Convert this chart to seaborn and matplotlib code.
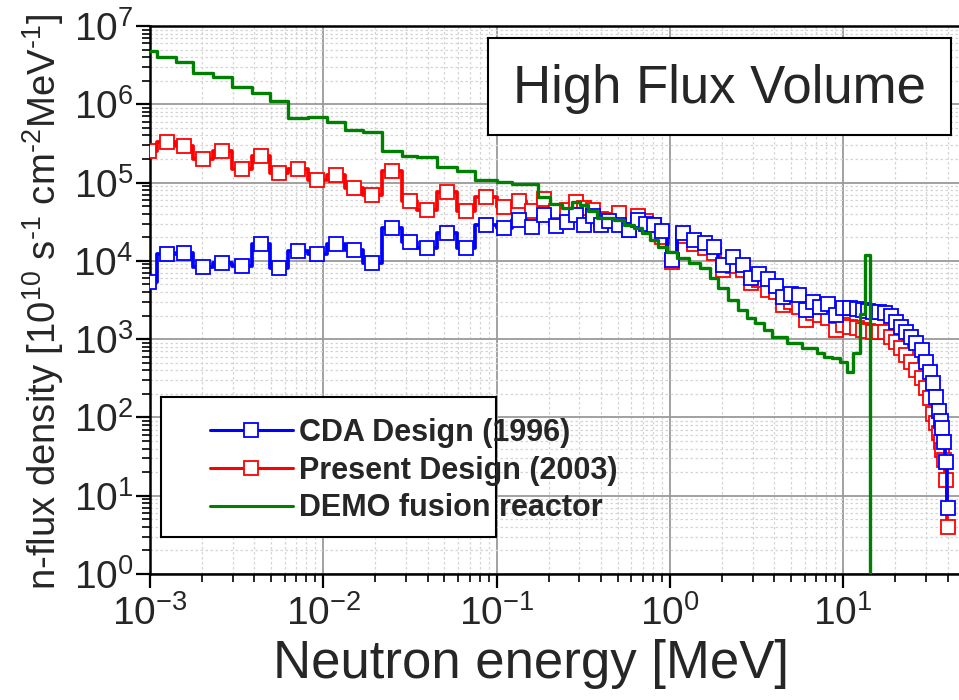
import numpy as np
import pandas as pd
import matplotlib
matplotlib.use("Agg")
import matplotlib.pyplot as plt
from matplotlib.lines import Line2D
from matplotlib.ticker import LogLocator, NullFormatter
import seaborn as sns

# Energy group boundaries [MeV]
energy_edges = [
    8.76e-4, 1.10e-3, 1.41e-3, 1.77e-3, 2.31e-3, 2.97e-3, 3.88e-3, 4.93e-3, 6.26e-3, 8.16e-3,
    1.05e-2, 1.33e-2, 1.69e-2, 2.18e-2, 2.85e-2, 3.47e-2, 4.53e-2, 5.91e-2, 7.51e-2,
    0.100, 0.123, 0.148, 0.173, 0.203, 0.238, 0.272, 0.303, 0.337, 0.380, 0.422, 0.476,
    0.543, 0.621, 0.690, 0.768, 0.854, 0.962,
    1.10, 1.29, 1.49, 1.70, 1.90, 2.16, 2.47, 2.79, 3.10, 3.49, 3.88, 4.32, 4.74, 5.27,
    5.79, 6.35, 7.06, 7.75, 8.62, 9.58,
    10.5, 11.4, 12.5, 13.4, 14.3, 15.5, 16.7, 18.1, 19.6, 21.0, 22.4, 24.0, 25.6, 27.4,
    29.3, 30.9, 32.5, 33.9, 35.0, 36.0, 36.9, 37.9, 38.9, 39.7, 40.5,
]

# Group-wise neutron flux density [1e10 s^-1 cm^-2 MeV^-1]
cda_flux = [
    5.4e3, 1.22e4, 1.25e4, 8.3e3, 9.5e3, 8.6e3, 1.65e4, 8.2e3, 1.35e4, 1.21e4,
    1.65e4, 1.38e4, 9.5e3, 2.6e4, 1.73e4, 1.45e4, 2.3e4, 1.48e4, 2.87e4, 2.6e4,
    3.3e4, 2.7e4, 3.9e4, 2.8e4, 3.1e4, 3.9e4, 2.9e4, 3.7e4, 2.9e4, 3.2e4,
    2.9e4, 2.5e4, 3.3e4, 3.0e4, 2.9e4, 2.4e4, 1.02e4, 2.25e4, 1.85e4, 1.68e4,
    1.52e4, 8.9e3, 1.11e4, 8.9e3, 6.1e3, 6.7e3, 5.8e3, 4.8e3, 3.5e3, 3.8e3,
    3.7e3, 2.36e3, 3.0e3, 2.6e3, 2.8e3, 2.04e3, 2.48e3, 2.48e3, 2.4e3, 2.37e3,
    2.3e3, 2.24e3, 2.2e3, 2.14e3, 1.95e3, 1.67e3, 1.45e3, 1.25e3, 1.08e3, 890,
    730, 510, 385, 273, 184, 122, 91, 73, 48, 27, 6.9,
]

present_flux = [
    2.5e5, 3.3e5, 2.9e5, 2.0e5, 2.5e5, 1.5e5, 2.2e5, 1.34e5, 1.5e5, 1.08e5,
    1.26e5, 8.6e4, 6.95e4, 1.4e5, 5.9e4, 4.5e4, 7.6e4, 4.3e4, 6.6e4, 4.9e4,
    5.9e4, 4.3e4, 6.1e4, 4.3e4, 4.5e4, 5.7e4, 4.7e4, 4.5e4, 3.4e4, 3.3e4,
    4.1e4, 2.5e4, 3.7e4, 3.2e4, 2.9e4, 2.0e4, 9.8e3, 2.05e4, 1.65e4, 1.45e4,
    1.27e4, 7.7e3, 8.6e3, 7.7e3, 5.2e3, 5.7e3, 4.2e3, 4.0e3, 2.7e3, 3.0e3,
    2.6e3, 1.76e3, 2.14e3, 2.04e3, 1.85e3, 1.31e3, 1.51e3, 1.45e3, 1.38e3, 1.31e3,
    1.26e3, 1.25e3, 1.25e3, 1.25e3, 1.08e3, 930, 765, 630, 510, 405,
    316, 235, 176, 112, 84, 63, 49, 38, 29, 16, 4.0,
]

demo_flux = [
    4.8e6, 4.0e6, 3.5e6, 2.5e6, 2.2e6, 1.68e6, 1.41e6, 1.1e6, 6.6e5, 6.8e5,
    5.9e5, 4.7e5, 4.4e5, 2.5e5, 2.2e5, 2.1e5, 1.6e5, 1.42e5, 1.08e5, 1.02e5,
    9.5e4, 9.5e4, 6.6e4, 5.4e4, 4.7e4, 5.7e4, 5.1e4, 4.3e4, 3.5e4, 3.5e4,
    3.3e4, 2.9e4, 2.6e4, 2.25e4, 1.85e4, 1.52e4, 1.31e4, 1.08e4, 9.3e3, 8.0e3,
    6.0e3, 4.5e3, 3.2e3, 2.36e3, 1.85e3, 1.6e3, 1.31e3, 1.08e3, 1.08e3, 890,
    890, 765, 765, 660, 600, 570, 510, 385, 660, 2.1e3,
    1.19e4, 0, 0, 0, 0, 0, 0, 0, 0, 0,
    0, 0, 0, 0, 0, 0, 0, 0, 0, 0, 0,
]

series_labels = ["CDA Design (1996)", "Present Design (2003)", "DEMO fusion reactor"]
series_colors = ["#0000ff", "#ff0000", "#008000"]
x_ticks = [1e-3, 1e-2, 1e-1, 1e0, 1e1]
y_ticks = [1e0, 1e1, 1e2, 1e3, 1e4, 1e5, 1e6, 1e7]
title_text = "High Flux Volume"
x_label = "Neutron energy [MeV]"
y_label = "n-flux density [10$^{10}$ s$^{\u20101}$ cm$^{\u20102}$MeV$^{\u20101}$]"

sns.set_style("ticks")
plt.rcParams["font.family"] = ["Liberation Sans", "DejaVu Sans"]
plt.rcParams["mathtext.fontset"] = "custom"
plt.rcParams["mathtext.rm"] = "Liberation Sans"
plt.rcParams["mathtext.it"] = "Liberation Sans:italic"
plt.rcParams["mathtext.bf"] = "Liberation Sans:bold"

W, H = 959, 700
fig = plt.figure(figsize=(W / 100, H / 100), dpi=100)
ax = fig.add_axes([150 / W, 126 / H, 809 / W, 548 / H])
ax.set_xscale("log")
ax.set_yscale("log")

edges = np.array(energy_edges)
centers = np.sqrt(edges[:-1] * edges[1:])


def step_frame(values):
    vals = np.asarray(values, dtype=float)
    return pd.DataFrame({"E": edges, "flux": np.append(vals, vals[-1])})


# spectra with bin-centre markers (red first so blue sits on top)
for vals, color, z in [(present_flux, series_colors[1], 3), (cda_flux, series_colors[0], 4)]:
    sns.lineplot(data=step_frame(vals), x="E", y="flux", drawstyle="steps-post",
                 color=color, lw=2.7, estimator=None, sort=False, ax=ax, zorder=z)
    sns.lineplot(x=centers, y=np.asarray(vals, dtype=float), color=color, ls="",
                 marker="s", ms=9.5, mfc="white", mec=color, mew=1.3,
                 estimator=None, sort=False, ax=ax, zorder=z + 0.5)

sns.lineplot(data=step_frame(demo_flux), x="E", y="flux", drawstyle="steps-post",
             color=series_colors[2], lw=2.4, estimator=None, sort=False, ax=ax, zorder=5)

# axes, ticks and grid
ax.xaxis.set_major_locator(LogLocator(base=10, numticks=20))
ax.xaxis.set_minor_locator(LogLocator(base=10, subs=np.arange(2, 10), numticks=20))
ax.yaxis.set_major_locator(LogLocator(base=10, numticks=20))
ax.yaxis.set_minor_locator(LogLocator(base=10, subs=np.arange(2, 10), numticks=20))
ax.set_xticks(x_ticks)
ax.set_yticks(y_ticks)
ax.xaxis.set_minor_formatter(NullFormatter())
ax.yaxis.set_minor_formatter(NullFormatter())
ax.set_xlim(1e-3, 46.6)
ax.set_ylim(1, 1e7)

ax.tick_params(which="major", direction="out", length=10, width=1.6, labelsize=28,
               color="black", top=False, right=False)
ax.tick_params(which="minor", direction="out", length=6, width=1.2, color="black",
               top=False, right=False)
ax.tick_params(axis="x", which="major", pad=5)
ax.tick_params(axis="y", which="major", pad=2)

ax.grid(which="major", color="#9a9a9a", lw=1.3, ls="-")
ax.grid(which="minor", color="#d4d4d4", lw=0.9, ls=(0, (2, 2)))
ax.set_axisbelow(True)

for side in ["left", "bottom", "top"]:
    ax.spines[side].set_color("black")
    ax.spines[side].set_linewidth(1.8)
ax.spines["right"].set_visible(False)

ax.set_xlabel(x_label, fontsize=38)
ax.set_ylabel(y_label, fontsize=27.5)
ax.xaxis.set_label_coords(0.471, -0.118)
ax.yaxis.set_label_coords(-0.104, 0.497)


def boxed_panel(left, top, width, height):
    """Opaque white panel with a thin black frame, given in pixel units."""
    pax = fig.add_axes([left / W, 1 - (top + height) / H, width / W, height / H],
                       zorder=5)
    pax.set_facecolor("white")
    pax.set_xticks([])
    pax.set_yticks([])
    pax.grid(False)
    for s in pax.spines.values():
        s.set_visible(True)
        s.set_color("black")
        s.set_linewidth(1.5)
    return pax


# title box
tax = boxed_panel(488, 38, 463, 97)
tax.text(0.5, (135 - 103) / 97, title_text, fontsize=38, ha="center", va="baseline",
         transform=tax.transAxes)

# legend box and entries
lax = boxed_panel(161, 397, 335, 140)
handles = [
    Line2D([], [], color=series_colors[0], lw=2.2, marker="s", ms=9.5,
           mfc="white", mec=series_colors[0], mew=1.3),
    Line2D([], [], color=series_colors[1], lw=2.2, marker="s", ms=9.5,
           mfc="white", mec=series_colors[1], mew=1.3),
    Line2D([], [], color=series_colors[2], lw=2.2),
]
lax.legend(handles, series_labels, loc="upper left",
           bbox_to_anchor=(210 / W, 1 - 418 / H), bbox_transform=fig.transFigure,
           frameon=False, borderpad=0, borderaxespad=0, handlelength=2.7,
           handletextpad=0.2, labelspacing=0.25,
           prop={"weight": "bold", "size": 22})

fig.savefig("out.png", dpi=100)
